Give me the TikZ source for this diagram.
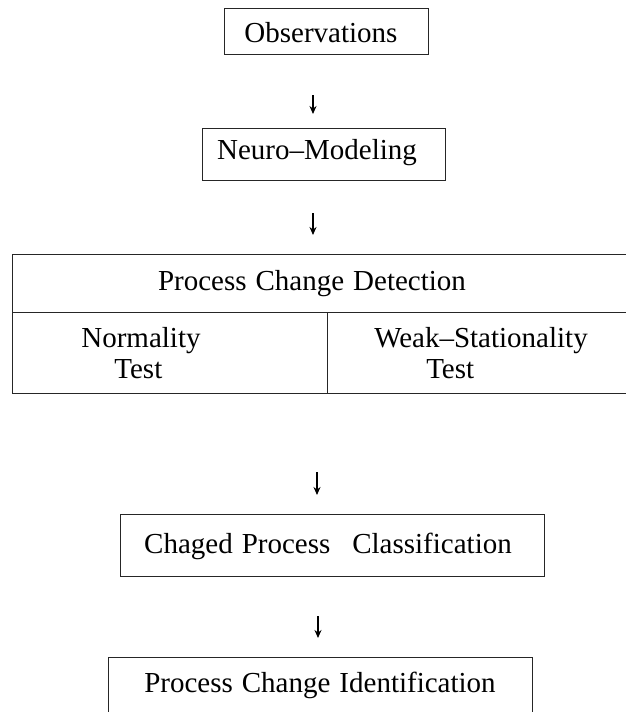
\documentclass[tikz,border=0pt]{standalone}
\usepackage{fontspec}
\setmainfont{Liberation Serif}
\usetikzlibrary{arrows.meta}

\tikzset{
  box/.style={draw=black!85, line width=0.8pt, rectangle, inner sep=0pt,
              font=\fontsize{29}{33}\selectfont},
  label/.style={inner sep=0pt, font=\fontsize{29}{33}\selectfont, align=left},
  flow/.style={line width=1.3pt, -{Stealth[length=8pt,width=7pt]}}
}

\begin{document}
\begin{tikzpicture}[x=1pt, y=-1pt]
  \useasboundingbox (0,0) rectangle (625,712);

  % upper stages
  \node[box, minimum width=204pt, minimum height=46pt] (obs) at (326,31) {};
  \node[label] (obstxt) at (321,33) {Observations};
  \node[box, minimum width=243pt, minimum height=52pt] (neuro) at (323.5,154) {};
  \node[label] (neurotxt) at (317,153) {Neuro--Modeling};

  % detection block: title row and two test cells (right side runs off the page)
  \node[box, minimum width=614pt, minimum height=58pt] (detect) at (319,283) {};
  \node[box, minimum width=315pt, minimum height=81pt] (normal) at (169.5,352.5) {};
  \node[box, minimum width=299pt, minimum height=81pt] (weak) at (476.5,352.5) {};
  \node[label] (detecttxt) at (312,284) {Process\hspace{9pt}Change\hspace{9pt}Detection};
  \node[label] (normaltxt) at (141,353) {Normality\\[-2pt]\hspace*{33pt}Test};
  \node[label] (weaktxt) at (481,353) {Weak--Stationality\\[-2pt]\hspace*{52pt}Test};

  % lower stages
  \node[box, minimum width=424pt, minimum height=62pt] (classify) at (332,545) {};
  \node[label] (classifytxt) at (328,546)
    {Chaged\hspace{9pt}Process\hspace{22pt}Classification};
  \node[box, minimum width=424pt, minimum height=70pt] (identify) at (320,692) {};
  \node[label] (identifytxt) at (320,685) {Process\hspace{9pt}Change\hspace{9pt}Identification};

  % arrow marks between the stages
  \coordinate (a1s) at (313,95);   \coordinate (a1e) at (313,114);
  \coordinate (a2s) at (313,213);  \coordinate (a2e) at (313,235);
  \coordinate (a3s) at (317,472);  \coordinate (a3e) at (317,495);
  \coordinate (a4s) at (318,616);  \coordinate (a4e) at (318,638);
  \draw[flow] (a1s) -- (a1e);
  \draw[flow] (a2s) -- (a2e);
  \draw[flow] (a3s) -- (a3e);
  \draw[flow] (a4s) -- (a4e);
\end{tikzpicture}
\end{document}
